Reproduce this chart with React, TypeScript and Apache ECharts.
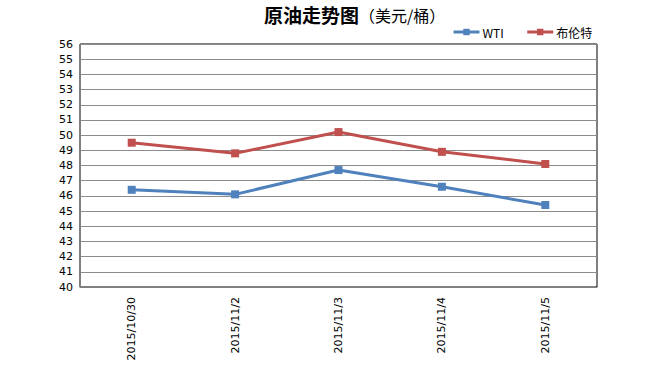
import React, { useEffect, useRef } from "react";
import * as echarts from "echarts";

const categories = ["2015/10/30", "2015/11/2", "2015/11/3", "2015/11/4", "2015/11/5"];
const wti = [46.4, 46.1, 47.7, 46.6, 45.4];
const brent = [49.5, 48.8, 50.2, 48.9, 48.1];
const yMin = 40;
const yMax = 56;

export default function App() {
  const ref = useRef<HTMLDivElement>(null);
  useEffect(() => {
    const chart = echarts.init(ref.current!, null, { renderer: "svg" });
    const font = "'DejaVu Sans', 'Noto Sans CJK SC', sans-serif";
    chart.setOption({
      animation: false,
      backgroundColor: "#ffffff",
      title: {
        text: "{b|原油走势图}{n|（美元/桶）}",
        left: 259,
        top: 0,
        textStyle: {
          fontWeight: "normal",
          rich: {
            b: { fontSize: 19, fontWeight: "bold", color: "#000", fontFamily: "'Noto Sans CJK SC', sans-serif" },
            n: { fontSize: 16, fontWeight: "normal", color: "#000", fontFamily: "'Noto Sans CJK SC', sans-serif" },
          },
        },
      },
      legend: {
        left: 447,
        top: 21,
        itemWidth: 26,
        itemHeight: 8,
        itemGap: 22,
        lineStyle: { width: 3 },
        textStyle: { fontSize: 12, color: "#000", fontFamily: "'Noto Sans CJK SC', sans-serif", padding: [0, 0, 0, -2] },
        data: ["WTI", "布伦特"],
      },
      grid: {
        left: 80,
        right: 57,
        top: 44,
        bottom: 79,
        show: true,
        borderColor: "#000",
        borderWidth: 1,
        backgroundColor: "transparent",
      },
      xAxis: {
        type: "category",
        data: categories,
        boundaryGap: true,
        axisLine: { lineStyle: { color: "#808080", width: 1 } },
        axisTick: { inside: true, length: 5, lineStyle: { color: "#808080" } },
        axisLabel: { rotate: 90, fontSize: 11, color: "#000", fontFamily: font, margin: 10 },
        splitLine: { show: false },
      },
      yAxis: {
        type: "value",
        min: yMin,
        max: yMax,
        interval: 1,
        axisLine: { show: true, lineStyle: { color: "#808080" } },
        axisTick: { show: false },
        axisLabel: { fontSize: 11, color: "#000", fontFamily: font, margin: 7 },
        splitLine: { lineStyle: { color: "#8c8c8c", width: 1 } },
      },
      series: [
        {
          name: "WTI",
          type: "line",
          data: wti,
          symbol: "rect",
          symbolSize: 8,
          color: "#4F81BD",
          lineStyle: { width: 3, color: "#4F81BD" },
          itemStyle: { color: "#4F81BD" },
        },
        {
          name: "布伦特",
          type: "line",
          data: brent,
          symbol: "rect",
          symbolSize: 8,
          color: "#C0504D",
          lineStyle: { width: 3, color: "#C0504D" },
          itemStyle: { color: "#C0504D" },
        },
      ],
    });
    return () => chart.dispose();
  }, []);
  return <div ref={ref} style={{ width: 654, height: 366, position: "fixed", left: 0, top: 0 }} />;
}
